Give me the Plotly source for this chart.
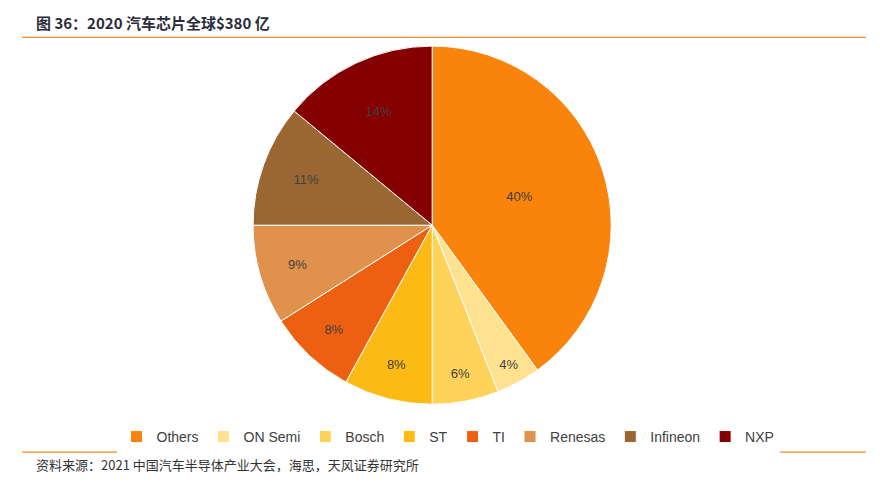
import plotly.graph_objects as go

labels = ["Others", "ON Semi", "Bosch", "ST", "TI", "Renesas", "Infineon", "NXP"]
values = [40, 4, 6, 8, 8, 9, 11, 14]
colors = ["#FA830C", "#FFE28F", "#FFD35A", "#FBBA14", "#EE6011", "#E0914C", "#9A6733", "#850000"]

fig = go.Figure(go.Pie(
    labels=labels, values=values, sort=False, direction="clockwise", rotation=0,
    marker=dict(colors=colors, line=dict(color="white", width=1)),
    texttemplate="%{percent:.0%}", textposition="inside", insidetextorientation="horizontal",
    textfont=dict(color="#404040", size=13, family="Liberation Sans"),
    domain=dict(x=[0.2785, 0.6855], y=[0.188, 0.922]),
    hoverinfo="label+percent",
))
fig.update_layout(
    width=880, height=488, margin=dict(l=0, r=0, t=0, b=0),
    paper_bgcolor="white", plot_bgcolor="white",
    font=dict(family="Noto Sans CJK SC", color="#404040"),
    legend=dict(orientation="h", x=0.5, xanchor="center", y=0.121, yanchor="middle",
                font=dict(size=14, family="Liberation Sans", color="#404040"),
                itemwidth=30, entrywidth=0, tracegroupgap=0),
    annotations=[
        dict(text="<b>图 36：2020 汽车芯片全球$380 亿</b>", x=0.029, y=0.971, xref="paper", yref="paper",
             xanchor="left", yanchor="middle", showarrow=False,
             font=dict(size=15, color="#2B2B3B", family="Noto Sans CJK SC")),
        dict(text="资料来源：2021 中国汽车半导体产业大会，海思，天风证券研究所", x=0.029, y=0.064,
             xref="paper", yref="paper", xanchor="left", yanchor="middle", showarrow=False,
             font=dict(size=13, color="#333333", family="Noto Sans CJK SC")),
    ],
    shapes=[
        dict(type="line", xref="paper", yref="paper", x0=0.016, x1=0.975, y0=0.94, y1=0.94,
             line=dict(color="#F08C2A", width=1.2)),
        dict(type="line", xref="paper", yref="paper", x0=0.016, x1=0.975, y0=0.09, y1=0.09,
             line=dict(color="#F08C2A", width=1.2)),
    ],
)
fig.write_html("out.html")
